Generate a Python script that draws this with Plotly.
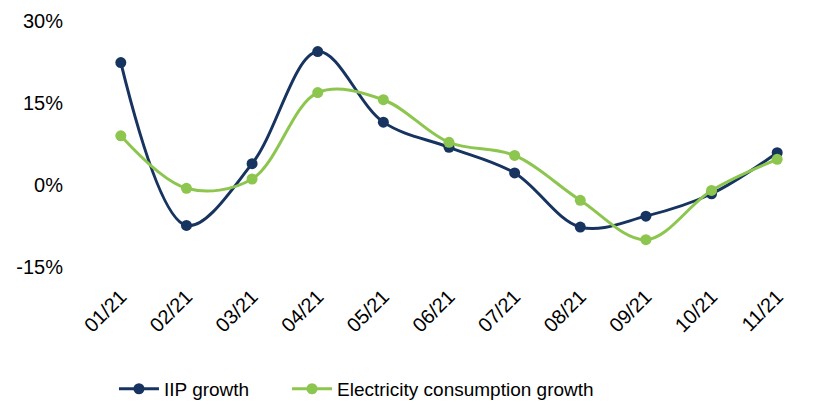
import plotly.graph_objects as go

# Monthly year-on-year growth, 2021
months = ["01/21", "02/21", "03/21", "04/21", "05/21", "06/21",
          "07/21", "08/21", "09/21", "10/21", "11/21"]
iip_growth = [22.4, -7.4, 3.9, 24.4, 11.5, 6.9, 2.2, -7.7, -5.7, -1.6, 5.9]
electricity_growth = [9.0, -0.6, 1.1, 16.9, 15.6, 7.8, 5.4, -2.8, -10.0, -1.0, 4.7]
y_ticks = [-15, 0, 15, 30]

NAVY = "#16345F"
GREEN = "#8DC64E"
AXIS_GREY = "#D9D9D9"
FONT = "Liberation Sans, Arial, sans-serif"

fig = go.Figure()
fig.add_trace(go.Scatter(
    x=months, y=iip_growth, name="IIP growth",
    mode="lines+markers",
    line=dict(color=NAVY, width=3, shape="spline", smoothing=1.0),
    marker=dict(color=NAVY, size=11),
    legend="legend",
))
fig.add_trace(go.Scatter(
    x=months, y=electricity_growth, name="Electricity consumption growth",
    mode="lines+markers",
    line=dict(color=GREEN, width=3, shape="spline", smoothing=1.0),
    marker=dict(color=GREEN, size=11),
    legend="legend2",
))

legend_style = dict(
    orientation="h", xref="container", yref="container",
    y=0.035, xanchor="left", yanchor="middle",
    font=dict(size=19), itemwidth=40, bgcolor="rgba(0,0,0,0)",
)

n = len(months)
fig.update_layout(
    width=814, height=403,
    margin=dict(l=88, r=4, t=21, b=136),
    paper_bgcolor="white", plot_bgcolor="white",
    font=dict(family=FONT, size=20, color="#000000"),
    showlegend=True,
    legend=dict(x=0.14, **legend_style),
    legend2=dict(x=0.3526, **legend_style),
    xaxis=dict(
        type="category", range=[-0.5, n - 0.5],
        showline=False, showgrid=False, zeroline=False,
        ticks="outside", ticklen=9, tickcolor="rgba(0,0,0,0)",
        tickangle=-45, tickfont=dict(size=20),
    ),
    # category axis drawn through the zero value, with boundary tick marks
    xaxis2=dict(
        overlaying="x", anchor="free", position=15 / 45,
        type="linear", range=[-0.5, n - 0.5],
        tickmode="array", tickvals=[i - 0.5 for i in range(n + 1)],
        showticklabels=False, showgrid=False, zeroline=False,
        showline=True, linecolor=AXIS_GREY, linewidth=2,
        ticks="outside", ticklen=6, tickwidth=1.5, tickcolor=AXIS_GREY,
        layer="below traces",
    ),
    yaxis=dict(
        range=[-15, 30], tickvals=y_ticks,
        ticktext=[f"{v}%" for v in y_ticks],
        showgrid=False, zeroline=False, showline=False,
        ticks="outside", ticklen=20, tickcolor="rgba(0,0,0,0)",
        tickfont=dict(size=20),
    ),
)

fig.write_html("out.html")
